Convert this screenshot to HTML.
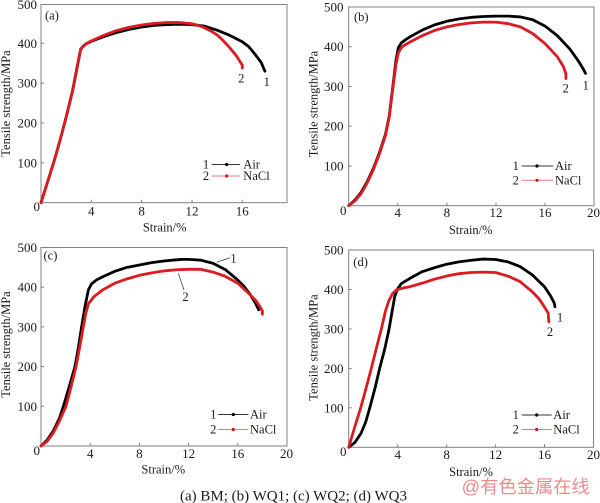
<!DOCTYPE html>
<html><head><meta charset="utf-8"><style>
html,body{margin:0;padding:0;background:#fff;}
svg{display:block;}
text{font-family:"Liberation Serif",serif;fill:#1a1a1a;}
.t{font-size:13px;}
.l{font-size:12.5px;}
.f{fill:none;stroke:#808080;stroke-width:1;}
.k{stroke:#000;stroke-width:2.8;fill:none;stroke-linejoin:round;stroke-linecap:round;}
.r{stroke:#dc1a22;stroke-width:2.8;fill:none;stroke-linejoin:round;stroke-linecap:round;}
.tk{stroke:#808080;stroke-width:1;}
</style></head><body>
<svg width="600" height="503" viewBox="0 0 600 503" xmlns="http://www.w3.org/2000/svg">

<!-- Panel (a) -->
<rect class="f" x="41" y="4.5" width="246" height="198.2"/>
<g class="tk">
<line x1="41" y1="162.85" x2="44" y2="162.85"/><line x1="41" y1="123" x2="44" y2="123"/><line x1="41" y1="83.15" x2="44" y2="83.15"/><line x1="41" y1="43.3" x2="44" y2="43.3"/>
<line x1="91.3" y1="202.7" x2="91.3" y2="199.7"/><line x1="141.6" y1="202.7" x2="141.6" y2="199.7"/><line x1="192" y1="202.7" x2="192" y2="199.7"/><line x1="242.3" y1="202.7" x2="242.3" y2="199.7"/>
</g>
<g class="t" text-anchor="end">
<text x="37" y="9">500</text><text x="37" y="47.8">400</text><text x="37" y="87.6">300</text><text x="37" y="127.5">200</text><text x="37" y="167.3">100</text>
</g>
<g class="t" text-anchor="middle">
<text x="36.7" y="211">0</text>
<text x="91.3" y="215.5">4</text><text x="141.6" y="215.5">8</text><text x="192" y="215.5">12</text><text x="242.3" y="215.5">16</text>
</g>
<text class="l" x="164.7" y="231.5" text-anchor="middle">Strain/%</text>
<text class="l" transform="translate(10,103.5) rotate(-90)" text-anchor="middle">Tensile strength/MPa</text>
<text class="l" x="45" y="19.5">(a)</text>
<g transform="translate(41,202.7) scale(12.58,-0.3985)">
<polyline class="k" vector-effect="non-scaling-stroke" points="0,0 0.5,50 1,100 1.5,155 2,215 2.5,280 2.9,345 3.15,385 3.35,393 3.6,399 4,405 5,417 6,427 7,435 8,441 9,445 10,447 11,448 12,447 13,443 14,433 15,420 16,404 16.5,392 17,373 17.5,352 17.8,330"/>
<polyline class="r" vector-effect="non-scaling-stroke" points="0,0 0.5,50 1,100 1.5,155 2,214 2.5,278 2.9,343 3.15,384 3.35,392 3.6,399 4,406 5,420 6,432 7,440 8,446 9,450 10,452 11,452 12,449 12.5,445 13,439 13.5,431 14,421 14.5,406 15,389 15.5,370 15.8,355 16,345 16,338"/>
</g>
<text class="l" x="266.7" y="86" text-anchor="middle">1</text>
<text class="l" x="241.3" y="82.5" text-anchor="middle">2</text>
<!-- legend a -->
<text class="l" x="206" y="168.5" text-anchor="middle">1</text>
<line x1="211.7" y1="164.5" x2="240" y2="164.5" stroke="#333" stroke-width="1"/>
<circle cx="226.7" cy="164.5" r="1.6" fill="#000"/>
<text class="l" x="243.3" y="168.5">Air</text>
<text class="l" x="206" y="180" text-anchor="middle">2</text>
<line x1="211.7" y1="176" x2="240" y2="176" stroke="#e27886" stroke-width="1"/>
<circle cx="226.7" cy="176" r="1.6" fill="#d0101c"/>
<text class="l" x="243.3" y="180">NaCl</text>

<!-- Panel (b) -->
<rect class="f" x="348.7" y="7" width="245.3" height="198.7"/>
<g class="tk">
<line x1="348.7" y1="166" x2="351.7" y2="166"/><line x1="348.7" y1="126.2" x2="351.7" y2="126.2"/><line x1="348.7" y1="86.5" x2="351.7" y2="86.5"/><line x1="348.7" y1="46.7" x2="351.7" y2="46.7"/>
<line x1="397.8" y1="205.7" x2="397.8" y2="202.7"/><line x1="446.9" y1="205.7" x2="446.9" y2="202.7"/><line x1="496" y1="205.7" x2="496" y2="202.7"/><line x1="545" y1="205.7" x2="545" y2="202.7"/>
</g>
<g class="t" text-anchor="end">
<text x="343.5" y="11.5">500</text><text x="343.5" y="51.2">400</text><text x="343.5" y="91">300</text><text x="343.5" y="130.7">200</text><text x="343.5" y="170.5">100</text>
</g>
<g class="t" text-anchor="middle">
<text x="343.3" y="215">0</text>
<text x="397.8" y="217">4</text><text x="446.9" y="217">8</text><text x="496" y="217">12</text><text x="545" y="217">16</text><text x="593.5" y="217">20</text>
</g>
<text class="l" x="470.7" y="234" text-anchor="middle">Strain/%</text>
<text class="l" transform="translate(317.5,104) rotate(-90)" text-anchor="middle">Tensile strength/MPa</text>
<text class="l" x="354" y="21">(b)</text>
<g transform="translate(348.7,205.7) scale(12.27,-0.3974)">
<polyline class="k" vector-effect="non-scaling-stroke" points="0,0 0.5,14 1,33 1.5,60 2,93 2.5,133 3,180 3.3,225 3.6,300 3.85,365 4.05,398 4.3,410 4.6,417 5,425 6,442 7,455 8,464 9,470 10,474 11,476 12,477 13,477 14,475 15,468 16,452 17,428 18,395 18.7,365 19.1,345 19.3,333"/>
<polyline class="r" vector-effect="non-scaling-stroke" points="0,0 0.5,12 1,30 1.5,57 2,90 2.5,130 3,177 3.3,222 3.6,295 3.85,355 4.05,385 4.3,398 4.6,405 5,412 6,428 7,441 8,450 9,456 10,460 11,462 12,462 13,458 14,450 15,433 16,408 17,375 17.5,350 17.7,332 17.7,320"/>
</g>
<text class="l" x="565.7" y="92.5" text-anchor="middle">2</text>
<text class="l" x="585.7" y="89.5" text-anchor="middle">1</text>
<!-- legend b -->
<text class="l" x="515.7" y="170" text-anchor="middle">1</text>
<line x1="521.7" y1="166" x2="553.3" y2="166" stroke="#333" stroke-width="1"/>
<circle cx="537" cy="166" r="1.6" fill="#000"/>
<text class="l" x="555" y="170">Air</text>
<text class="l" x="515.7" y="184.3" text-anchor="middle">2</text>
<line x1="521.7" y1="180.3" x2="553.3" y2="180.3" stroke="#e27886" stroke-width="1"/>
<circle cx="537" cy="180.3" r="1.6" fill="#d0101c"/>
<text class="l" x="555" y="184.3">NaCl</text>

<!-- Panel (c) -->
<rect class="f" x="41" y="247.5" width="246" height="198.5"/>
<g class="tk">
<line x1="41" y1="406.3" x2="44" y2="406.3"/><line x1="41" y1="366.6" x2="44" y2="366.6"/><line x1="41" y1="326.9" x2="44" y2="326.9"/><line x1="41" y1="287.2" x2="44" y2="287.2"/>
<line x1="90.2" y1="446" x2="90.2" y2="443"/><line x1="139.4" y1="446" x2="139.4" y2="443"/><line x1="188.6" y1="446" x2="188.6" y2="443"/><line x1="237.8" y1="446" x2="237.8" y2="443"/>
</g>
<g class="t" text-anchor="end">
<text x="37" y="252">500</text><text x="37" y="291.7">400</text><text x="37" y="331.4">300</text><text x="37" y="371.1">200</text><text x="37" y="410.8">100</text>
</g>
<g class="t" text-anchor="middle">
<text x="36.7" y="455">0</text>
<text x="90.2" y="458">4</text><text x="139.4" y="458">8</text><text x="188.6" y="458">12</text><text x="237.8" y="458">16</text><text x="286.5" y="458">20</text>
</g>
<text class="l" x="163.3" y="473.5" text-anchor="middle">Strain/%</text>
<text class="l" transform="translate(10,344.5) rotate(-90)" text-anchor="middle">Tensile strength/MPa</text>
<text class="l" x="43.5" y="259.5">(c)</text>
<g transform="translate(41,446) scale(12.3,-0.397)">
<polyline class="k" vector-effect="non-scaling-stroke" points="0,0 0.5,15 1,38 1.5,70 1.82,100 2.3,150 2.76,200 3.05,250 3.3,300 3.6,355 3.85,393 4.1,408 4.5,418 5,426 6,440 7,450 8,456 9,462 10,466 11,469 11.5,470 12,470 13,468 14,460 15,444 16,418 16.5,402 17,382 17.4,362 17.7,343"/>
<polyline class="r" vector-effect="non-scaling-stroke" points="0,0 0.5,12 1,33 1.5,63 2.03,100 2.45,150 2.85,200 3.15,250 3.44,300 3.65,335 3.85,358 4.3,376 5,393 6,410 7,421 8,430 9,436 10,441 11,444 12,445 13,445 14,438 15,427 16,410 17,381 17.5,365 17.8,351 18,340 18,332"/>
</g>
<line x1="216.7" y1="262.3" x2="230" y2="257.7" stroke="#444" stroke-width="0.8"/>
<text class="l" x="233.5" y="262.5" text-anchor="middle">1</text>
<line x1="178.3" y1="273.3" x2="184" y2="290" stroke="#444" stroke-width="0.8"/>
<text class="l" x="185.5" y="301" text-anchor="middle">2</text>
<!-- legend c -->
<text class="l" x="213.3" y="418.5" text-anchor="middle">1</text>
<line x1="218.3" y1="414.5" x2="248.3" y2="414.5" stroke="#333" stroke-width="1"/>
<circle cx="233.3" cy="414.5" r="1.6" fill="#000"/>
<text class="l" x="250" y="418.5">Air</text>
<text class="l" x="213.3" y="433.5" text-anchor="middle">2</text>
<line x1="218.3" y1="429.5" x2="248.3" y2="429.5" stroke="#e27886" stroke-width="1"/>
<circle cx="233.3" cy="429.5" r="1.6" fill="#d0101c"/>
<text class="l" x="250" y="433.5">NaCl</text>

<!-- Panel (d) -->
<rect class="f" x="348.7" y="250" width="244.8" height="197.3"/>
<g class="tk">
<line x1="348.7" y1="407.8" x2="351.7" y2="407.8"/><line x1="348.7" y1="368.4" x2="351.7" y2="368.4"/><line x1="348.7" y1="328.9" x2="351.7" y2="328.9"/><line x1="348.7" y1="289.5" x2="351.7" y2="289.5"/>
<line x1="397.7" y1="447.3" x2="397.7" y2="444.3"/><line x1="446.6" y1="447.3" x2="446.6" y2="444.3"/><line x1="495.6" y1="447.3" x2="495.6" y2="444.3"/><line x1="544.5" y1="447.3" x2="544.5" y2="444.3"/>
</g>
<g class="t" text-anchor="end">
<text x="343.5" y="254.5">500</text><text x="343.5" y="294">400</text><text x="343.5" y="333.4">300</text><text x="343.5" y="372.9">200</text><text x="343.5" y="412.3">100</text>
</g>
<g class="t" text-anchor="middle">
<text x="343.3" y="456">0</text>
<text x="397.7" y="459">4</text><text x="446.6" y="459">8</text><text x="495.6" y="459">12</text><text x="544.5" y="459">16</text><text x="593.5" y="459">20</text>
</g>
<text class="l" x="471" y="476" text-anchor="middle">Strain/%</text>
<text class="l" transform="translate(317.5,347.5) rotate(-90)" text-anchor="middle">Tensile strength/MPa</text>
<text class="l" x="353.3" y="266">(d)</text>
<g transform="translate(348.7,447.3) scale(12.24,-0.3946)">
<polyline class="k" vector-effect="non-scaling-stroke" points="0,0 0.5,12 1,35 1.4,65 1.72,100 2.15,150 2.53,200 2.95,250 3.3,300 3.55,345 3.76,382 4,402 4.3,415 5,428 6,445 7,455 8,464 9,470 10,474 11,477 12,476 13,470 14,458 15,437 16,407 16.5,383 16.8,365 16.85,356"/>
<polyline class="r" vector-effect="non-scaling-stroke" points="0,0 0.5,52 0.98,100 1.42,150 1.85,200 2.25,250 2.67,300 3,345 3.3,373 3.6,390 3.9,399 4.5,404 5,407 6,416 7,426 8,434 9,440 10,443 11,444 12,443 13,434 14,420 15,394 15.5,378 15.8,365 16.1,350 16.3,340 16.35,318"/>
</g>
<text class="l" x="560" y="321.5" text-anchor="middle">1</text>
<text class="l" x="550" y="336" text-anchor="middle">2</text>
<!-- legend d -->
<text class="l" x="515.7" y="419" text-anchor="middle">1</text>
<line x1="521.7" y1="415" x2="551.7" y2="415" stroke="#333" stroke-width="1"/>
<circle cx="536.7" cy="415" r="1.6" fill="#000"/>
<text class="l" x="553.3" y="419">Air</text>
<text class="l" x="515.7" y="433.5" text-anchor="middle">2</text>
<line x1="521.7" y1="429.5" x2="551.7" y2="429.5" stroke="#e27886" stroke-width="1"/>
<circle cx="536.7" cy="429.5" r="1.6" fill="#d0101c"/>
<text class="l" x="553.3" y="433.5">NaCl</text>

<!-- caption -->
<text x="180" y="500.5" font-size="15" textLength="227" lengthAdjust="spacingAndGlyphs">(a) BM; (b) WQ1; (c) WQ2; (d) WQ3</text>
<text x="461.7" y="493" font-size="18" textLength="128" lengthAdjust="spacingAndGlyphs" style="font-family:'Liberation Sans','Noto Sans CJK SC',sans-serif;fill:#ee8a8a;">@有色金属在线</text>
</svg>
</body></html>
